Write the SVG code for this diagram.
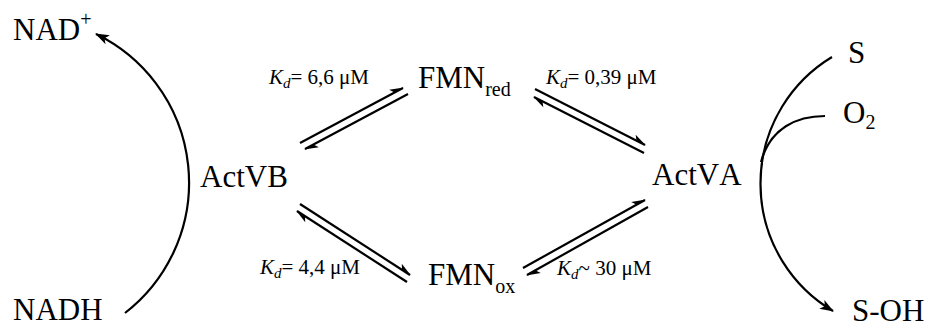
<svg xmlns="http://www.w3.org/2000/svg" width="926" height="327" viewBox="0 0 926 327">
<style>
.t{font-family:"Liberation Serif","Times New Roman",serif;fill:#000;font-kerning:none}
.big{font-size:31px}
.kd{font-size:21px}
.it{font-style:italic}
.ln{fill:none;stroke:#000;stroke-width:2.2}
</style>
<defs>
<marker id="harp" markerUnits="userSpaceOnUse" orient="auto" overflow="visible" refX="0" refY="0" markerWidth="1" markerHeight="1">
<path d="M1,0 L-13,-5 L-9.5,0 Z" fill="#000"/>
</marker>
<marker id="head" markerUnits="userSpaceOnUse" orient="auto" overflow="visible" refX="0" refY="0" markerWidth="1" markerHeight="1">
<path d="M1,0 L-13,-5 L-9.5,0 L-13,5 Z" fill="#000"/>
</marker>
</defs>
<g id="connectors">
<path class="ln" d="M300,143 L403,88" marker-end="url(#harp)"/>
<path class="ln" d="M408,94 L305,149" marker-end="url(#harp)"/>
<path class="ln" d="M535,89 L645,145" marker-end="url(#harp)"/>
<path class="ln" d="M644,153 L534,97" marker-end="url(#harp)"/>
<path class="ln" d="M300,204 L410,275" marker-end="url(#harp)"/>
<path class="ln" d="M407,282 L297,211" marker-end="url(#harp)"/>
<path class="ln" d="M523,268 L645,200" marker-end="url(#harp)"/>
<path class="ln" d="M648,207 L527,275" marker-end="url(#harp)"/>
<path class="ln" d="M125,313 A165,165 0 0 0 96,34" marker-end="url(#head)"/>
<path class="ln" d="M832,57 A148,148 0 0 0 833,311" marker-end="url(#head)"/>
<path class="ln" d="M825,116 C797,116 770,128 761,162"/>
</g>
<g id="nad"><text class="t big" x="13" y="40">NAD<tspan font-size="20" dy="-14">+</tspan></text></g>
<g id="nadh"><text class="t big" x="13" y="320">NADH</text></g>
<g id="actvb"><text class="t big" x="200" y="187">ActVB</text></g>
<g id="actva"><text class="t big" x="652" y="185">ActVA</text></g>
<g id="fmnred"><text class="t big" x="418" y="88">FMN<tspan font-size="20" dy="8">red</tspan></text></g>
<g id="fmnox"><text class="t big" x="428" y="285">FMN<tspan font-size="20" dy="8">ox</tspan></text></g>
<g id="s"><text class="t big" x="848" y="63">S</text></g>
<g id="o2"><text class="t big" x="843" y="123">O<tspan font-size="20" dy="6">2</tspan></text></g>
<g id="soh"><text class="t big" x="852" y="321">S-OH</text></g>
<g id="kd1"><text class="t kd" x="269" y="84"><tspan class="it">K</tspan><tspan class="it" font-size="15" dy="4">d</tspan><tspan dy="-4">= 6,6 μM</tspan></text></g>
<g id="kd2"><text class="t kd" x="546" y="84"><tspan class="it">K</tspan><tspan class="it" font-size="15" dy="4">d</tspan><tspan dy="-4">= 0,39 μM</tspan></text></g>
<g id="kd3"><text class="t kd" x="260" y="274"><tspan class="it">K</tspan><tspan class="it" font-size="15" dy="4">d</tspan><tspan dy="-4">= 4,4 μM</tspan></text></g>
<g id="kd4"><text class="t kd" x="557" y="275"><tspan class="it">K</tspan><tspan class="it" font-size="15" dy="4">d</tspan><tspan dy="-4">~ 30 μM</tspan></text></g>
</svg>
